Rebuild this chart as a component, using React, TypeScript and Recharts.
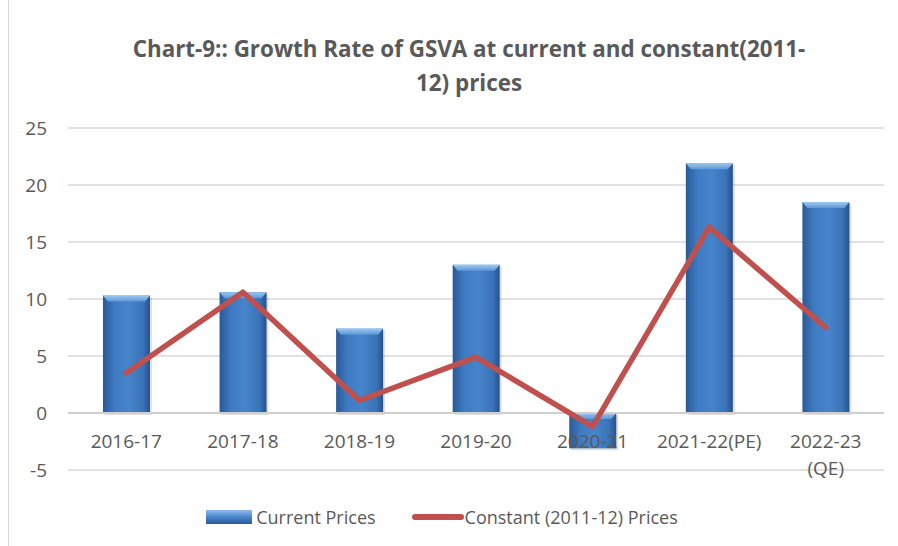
import React from "react";
import {
  ComposedChart,
  Bar,
  Line,
  XAxis,
  YAxis,
  CartesianGrid,
  ReferenceLine,
  Legend,
} from "recharts";

const YEARS = ["2016-17", "2017-18", "2018-19", "2019-20", "2020-21", "2021-22(PE)", "2022-23 (QE)"];
const CURRENT = [10.3, 10.6, 7.4, 13.0, -3.1, 21.9, 18.5];
const CONSTANT = [3.5, 10.6, 1.1, 4.9, -1.2, 16.3, 7.5];
const Y_TICKS = [-5, 0, 5, 10, 15, 20, 25];

const data = YEARS.map((year, i) => ({ year, current: CURRENT[i], constant: CONSTANT[i] }));

const FONT = "'Open Sans', 'Liberation Sans', sans-serif";
const TEXT = "#595959";

// Excel-style bevelled bar: dark edges, lighter middle, a light cap on top
function BevelBar(props: any) {
  const { x, y, width, height } = props;
  const top = Math.min(y, y + height);
  const h = Math.abs(height);
  const cap = Math.min(6, h / 2);
  return (
    <g>
      <rect x={x + 2} y={top + 2} width={width} height={h} fill="#000" opacity={0.12} />
      <rect x={x} y={top} width={width} height={h} fill="url(#barBody)" />
      <polygon
        points={`${x},${top} ${x + width},${top} ${x + width - 5},${top + cap} ${x + 5},${top + cap}`}
        fill="url(#barCap)"
      />
    </g>
  );
}

function YearTick(props: any) {
  const { x, y, payload } = props;
  const parts = String(payload.value).split(" ");
  return (
    <text x={x} y={y - 30} textAnchor="middle" fill={TEXT} fontSize={19} fontFamily={FONT}>
      {parts.map((p, i) => (
        <tspan key={p} x={x} dy={i === 0 ? 0 : 27}>
          {p}
        </tspan>
      ))}
    </text>
  );
}

function LegendBox() {
  return (
    <div
      style={{
        display: "flex",
        justifyContent: "center",
        alignItems: "center",
        fontFamily: FONT,
        fontSize: 18,
        color: TEXT,
        gap: 36,
        paddingRight: 14,
      }}
    >
      <span style={{ display: "flex", alignItems: "center" }}>
        <svg width={46} height={14} style={{ marginRight: 4 }}>
          <rect x={0} y={0} width={46} height={14} fill="url(#legendBar)" />
        </svg>
        Current Prices
      </span>
      <span style={{ display: "flex", alignItems: "center" }}>
        <svg width={52} height={14} style={{ marginRight: 1 }}>
          <line x1={3} y1={7} x2={49} y2={7} stroke="#c0504d" strokeWidth={6} strokeLinecap="round" />
        </svg>
        Constant (2011-12) Prices
      </span>
    </div>
  );
}

export default function App() {
  return (
    <div style={{ position: "relative", width: 898, height: 546, background: "#fff", overflow: "hidden" }}>
      <style>{"body{margin:0}"}</style>
      <svg width={0} height={0} style={{ position: "absolute" }}>
        <defs>
          <linearGradient id="legendBar" x1="0" y1="0" x2="0" y2="1">
            <stop offset="0%" stopColor="#8cbcec" />
            <stop offset="50%" stopColor="#4a86cc" />
            <stop offset="100%" stopColor="#2a5a98" />
          </linearGradient>
        </defs>
      </svg>
      <div style={{ position: "absolute", left: 8, top: 0, bottom: 0, width: 1, background: "#d9d9d9" }} />
      <div
        style={{
          position: "absolute",
          top: 32,
          left: 0,
          width: 898,
          paddingLeft: 40,
          boxSizing: "border-box",
          textAlign: "center",
          fontFamily: FONT,
          fontWeight: 700,
          fontSize: 22.4,
          lineHeight: "34px",
          color: TEXT,
        }}
      >
        Chart-9:: Growth Rate of GSVA at current and constant(2011-
        <br />
        12) prices
      </div>
      <ComposedChart
        width={898}
        height={546}
        data={data}
        margin={{ top: 128, right: 14, bottom: 22, left: 0 }}
        barCategoryGap="30%"
      >
        <defs>
          <linearGradient id="barBody" x1="0" y1="0" x2="1" y2="0">
            <stop offset="0%" stopColor="#2a5a98" />
            <stop offset="25%" stopColor="#3f7bc2" />
            <stop offset="55%" stopColor="#4684cb" />
            <stop offset="85%" stopColor="#3a73b8" />
            <stop offset="100%" stopColor="#25528c" />
          </linearGradient>
          <linearGradient id="barCap" x1="0" y1="0" x2="0" y2="1">
            <stop offset="0%" stopColor="#9cc8f0" />
            <stop offset="100%" stopColor="#5b97d8" />
          </linearGradient>
        </defs>
        <CartesianGrid vertical={false} stroke="#d9d9d9" strokeWidth={1.5} />
        <XAxis
          dataKey="year"
          tick={<YearTick />}
          axisLine={false}
          tickLine={false}
          interval={0}
          height={30}
        />
        <YAxis
          domain={[-5, 25]}
          ticks={Y_TICKS}
          width={68}
          axisLine={false}
          tickLine={false}
          tickMargin={15}
          tick={{ fill: TEXT, fontSize: 19, fontFamily: FONT }}
        />
        <ReferenceLine y={0} stroke="#cfcfcf" strokeWidth={2} />
        <Bar dataKey="current" name="Current Prices" shape={<BevelBar />} isAnimationActive={false} />
        <Line
          dataKey="constant"
          name="Constant (2011-12) Prices"
          type="linear"
          stroke="#c0504d"
          strokeWidth={5.5}
          strokeLinecap="round"
          strokeLinejoin="round"
          dot={false}
          activeDot={false}
          isAnimationActive={false}
        />
        <Legend
          content={<LegendBox />}
          wrapperStyle={{ position: "absolute", top: 505, left: 0, width: 898 }}
        />
      </ComposedChart>
    </div>
  );
}
